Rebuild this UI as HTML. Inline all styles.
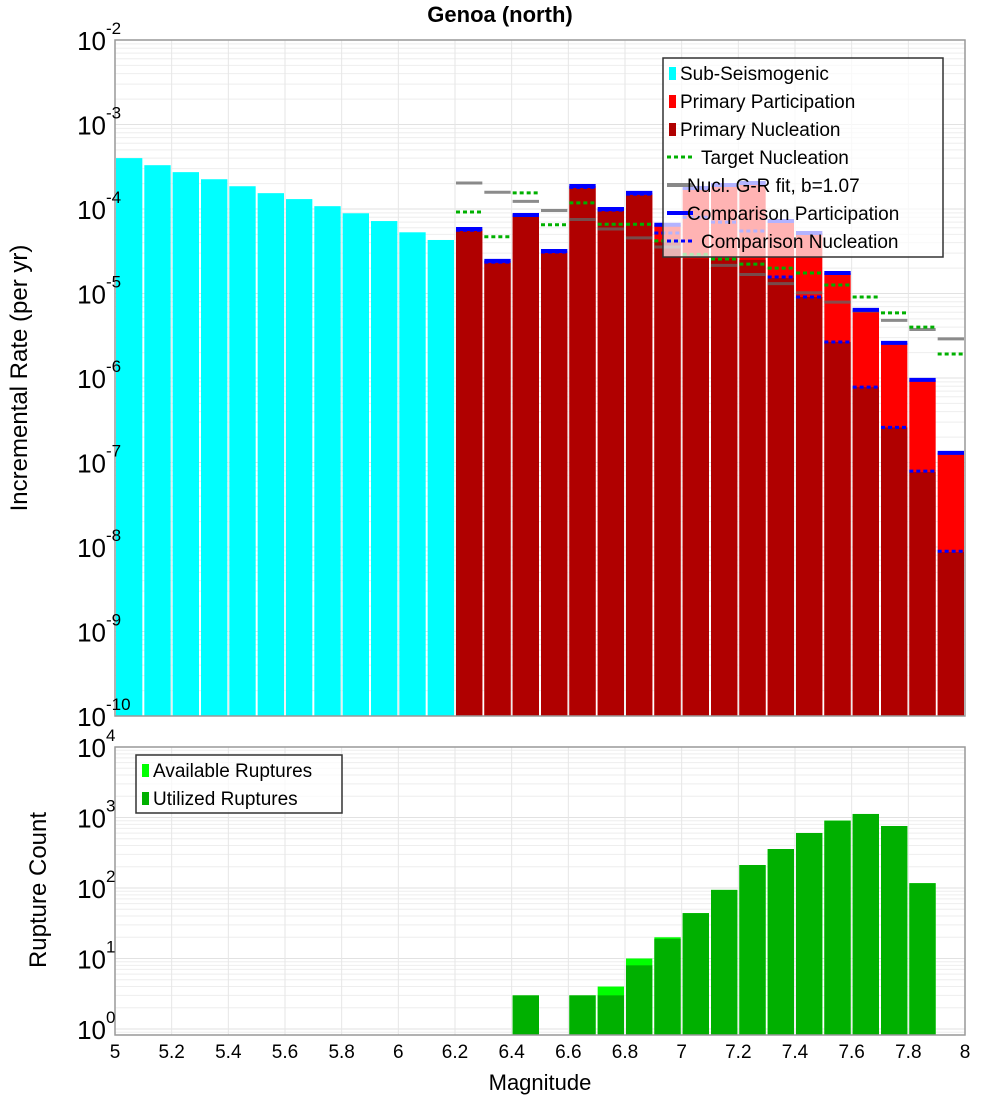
<!DOCTYPE html>
<html><head><meta charset="utf-8"><style>
body{margin:0;background:#fff;}
svg{font-family:"Liberation Sans","DejaVu Sans",sans-serif;}
</style></head><body>
<svg id="chart" width="1000" height="1100" viewBox="0 0 1000 1100" xmlns="http://www.w3.org/2000/svg">
<rect width="1000" height="1100" fill="#fff"/>
<text x="500" y="22" text-anchor="middle" font-size="22" font-weight="bold">Genoa (north)</text>
<g id="topg"></g>
<g id="botg"></g>
<text transform="translate(27,378) rotate(-90)" text-anchor="middle" font-size="24">Incremental Rate (per yr)</text>
<text transform="translate(46,890) rotate(-90)" text-anchor="middle" font-size="24">Rupture Count</text>
<text x="540" y="1090" text-anchor="middle" font-size="22">Magnitude</text>
</svg>
<script>
const subMags=[5.05,5.15,5.25,5.35,5.45,5.55,5.65,5.75,5.85,5.95,6.05,6.15];
const subRates=[4.0e-4,3.3e-4,2.73e-4,2.25e-4,1.86e-4,1.54e-4,1.31e-4,1.08e-4,8.9e-5,7.2e-5,5.3e-5,4.3e-5];
const priMags=[6.25,6.35,6.45,6.55,6.65,6.75,6.85,6.95,7.05,7.15,7.25,7.35,7.45,7.55,7.65,7.75,7.85,7.95];
const partRates=[5.8e-5,2.43e-5,8.5e-5,3.18e-5,1.87e-4,1.0e-4,1.55e-4,6.5e-5,1.77e-4,1.92e-4,2.03e-4,7.2e-5,5.2e-5,1.75e-5,6.4e-6,2.6e-6,9.5e-7,1.3e-7];
const nuclRates=[5.5e-5,2.3e-5,8.3e-5,3.0e-5,1.77e-4,9.5e-5,1.47e-4,4.1e-5,2.6e-5,2.6e-5,2.5e-5,1.52e-5,9.1e-6,2.67e-6,7.8e-7,2.6e-7,7.7e-8,8.7e-9];
const targetRates=[9.2e-5,4.7e-5,1.55e-4,6.5e-5,1.18e-4,6.6e-5,6.6e-5,4.2e-5,2.9e-5,2.56e-5,2.23e-5,2.0e-5,1.75e-5,1.26e-5,9.1e-6,5.9e-6,4.0e-6,1.92e-6];
const grRates=[2.03e-4,1.58e-4,1.23e-4,9.6e-5,7.5e-5,5.8e-5,4.55e-5,3.55e-5,2.76e-5,2.15e-5,1.68e-5,1.31e-5,1.02e-5,7.9e-6,6.2e-6,4.8e-6,3.75e-6,2.9e-6];
const compPartRates=[5.8e-5,2.43e-5,8.5e-5,3.18e-5,1.87e-4,1.0e-4,1.55e-4,6.5e-5,1.77e-4,1.92e-4,2.03e-4,7.2e-5,5.2e-5,1.75e-5,6.4e-6,2.6e-6,9.5e-7,1.3e-7];
const compNuclRates=[5.6e-5,2.35e-5,8.4e-5,3.1e-5,1.8e-4,9.7e-5,1.5e-4,5.2e-5,8.0e-5,7.0e-5,5.5e-5,1.57e-5,9.1e-6,2.67e-6,7.8e-7,2.6e-7,7.9e-8,8.9e-9];
const cntMags=[6.45,6.65,6.75,6.85,6.95,7.05,7.15,7.25,7.35,7.45,7.55,7.65,7.75,7.85];
const availCounts=[3,3,4,10,20,44,94,212,357,603,902,1122,757,117];
const usedCounts=[3,3,3,8,19,44,94,212,357,603,902,1122,757,117];
const xTicks=[5,5.2,5.4,5.6,5.8,6,6.2,6.4,6.6,6.8,7,7.2,7.4,7.6,7.8,8];
const topDecades=[-2,-3,-4,-5,-6,-7,-8,-9,-10];
const botDecades=[0,1,2,3,4];

const NS="http://www.w3.org/2000/svg";
const X0=115,X1=965;
const x=m=>X0+(m-5)/3*(X1-X0);
const yT=v=>40+(-2-Math.log10(v))*84.5;
const yB=v=>747+(4-Math.log10(v))*70.5;
function mk(parent,tag,attrs){const e=document.createElementNS(NS,tag);for(const k in attrs)e.setAttribute(k,attrs[k]);parent.appendChild(e);return e;}
const topG=document.getElementById('topg'),botG=document.getElementById('botg');

function grid(g,y0,y1,decs,yf){
  for(const d of decs){for(let k=1;k<10;k++){const v=Math.pow(10,d)*k;const yy=yf(v);if(yy<y0-0.5||yy>y1+0.5)continue;
    const l=mk(g,'line',{x1:X0,x2:X1,y1:yy,y2:yy,stroke:k==1?'#e2e2e2':'#eeeeee','stroke-width':1});
    
    }}
  for(const t of xTicks){const l=mk(g,'line',{x1:x(t),x2:x(t),y1:y0,y2:y1,stroke:'#e6e6e6','stroke-width':1});
    
    }
}
grid(topG,40,716,[-3,-4,-5,-6,-7,-8,-9,-10],yT);
grid(botG,747,1035,[-1,0,1,2,3],yB);

function bar(g,m,v,yf,yb,fill,name){const xa=x(m-0.05)+1,xb=x(m+0.05)-1;const yy=Math.max(yf(v),0);
  const r=mk(g,'rect',{x:xa,y:yy,width:xb-xa,height:yb-yy,fill:fill});
  
  }
function hl(g,m,v,color,w,dash,name){const a={x1:x(m-0.05)+1,x2:x(m+0.05)-1,y1:yT(v),y2:yT(v),stroke:color,'stroke-width':w};if(dash)a['stroke-dasharray']=dash;
  const l=mk(g,'line',a);
  
  }

subMags.forEach((m,i)=>bar(topG,m,subRates[i],yT,716,'#00ffff','sub-seismogenic-bar'));
priMags.forEach((m,i)=>bar(topG,m,partRates[i],yT,716,'#ff0000','primary-participation-bar'));
priMags.forEach((m,i)=>bar(topG,m,nuclRates[i],yT,716,'#b00000','primary-nucleation-bar'));
priMags.forEach((m,i)=>hl(topG,m,grRates[i],'rgba(100,100,100,0.75)',3,null,'gr-fit-line'));
priMags.forEach((m,i)=>hl(topG,m,targetRates[i],'#00b000',3,'4,3','target-nucleation-line'));
priMags.forEach((m,i)=>hl(topG,m,compPartRates[i],'#0000ff',4,null,'comparison-participation-line'));
priMags.forEach((m,i)=>hl(topG,m,compNuclRates[i],'#0000ff',3,'4,3','comparison-nucleation-line'));

cntMags.forEach((m,i)=>bar(botG,m,availCounts[i],yB,1035,'#00ff00','available-ruptures-bar'));
cntMags.forEach((m,i)=>bar(botG,m,usedCounts[i],yB,1035,'#00b000','utilized-ruptures-bar'));

const f1=mk(topG,'rect',{x:X0,y:40,width:X1-X0,height:676,fill:'none',stroke:'#999','stroke-width':1.5});


const f2=mk(botG,'rect',{x:X0,y:747,width:X1-X0,height:288,fill:'none',stroke:'#999','stroke-width':1.5});



function decLabel(g,d,yy){const t=mk(g,'text',{x:106,y:yy+10,'text-anchor':'end','font-size':26});t.textContent='10';
  
  
  const s=mk(g,'text',{x:106,y:yy-6,'font-size':17});s.textContent=String(d);
  
  }
topDecades.forEach(d=>decLabel(topG,d,yT(Math.pow(10,d))));
botDecades.forEach(d=>decLabel(botG,d,yB(Math.pow(10,d))));
xTicks.forEach(t=>{const e=mk(botG,'text',{x:x(t),y:1058,'text-anchor':'middle','font-size':19});e.textContent=String(t);
  
  });

function legend(g,bx,by,bw,bh,items){const b=mk(g,'rect',{x:bx,y:by,width:bw,height:bh,fill:'rgba(255,255,255,0.7)',stroke:'#333','stroke-width':1.5});
  
  
  items.forEach((it,i)=>{const cy=by+15+i*28;
    if(it.t==='box'){const r=mk(g,'rect',{x:bx+6,y:cy-6,width:7,height:13,fill:it.c});}
    else{const a={x1:bx+4,x2:bx+30,y1:cy,y2:cy,stroke:it.c,'stroke-width':it.t==='dot'?3:4};if(it.t==='dot')a['stroke-dasharray']='4,3';const l=mk(g,'line',a);}
    const tx=mk(g,'text',{x:bx+(it.t==='box'?17:it.off||24),y:cy+7,'font-size':19});tx.textContent=it.s;
    
    });}
legend(topG,663,58,280,199,[
 {t:'box',c:'#00ffff',s:'Sub-Seismogenic'},
 {t:'box',c:'#ff0000',s:'Primary Participation'},
 {t:'box',c:'#b00000',s:'Primary Nucleation'},
 {t:'dot',c:'#00b000',s:'Target Nucleation',off:38},
 {t:'line',c:'#888',s:'Nucl. G-R fit, b=1.07',off:24},
 {t:'line',c:'#0000ff',s:'Comparison Participation',off:24},
 {t:'dot',c:'#0000ff',s:'Comparison Nucleation',off:38}]);
legend(botG,136,755,206,58,[
 {t:'box',c:'#00ff00',s:'Available Ruptures'},
 {t:'box',c:'#00b000',s:'Utilized Ruptures'}]);
</script>
</body></html>
